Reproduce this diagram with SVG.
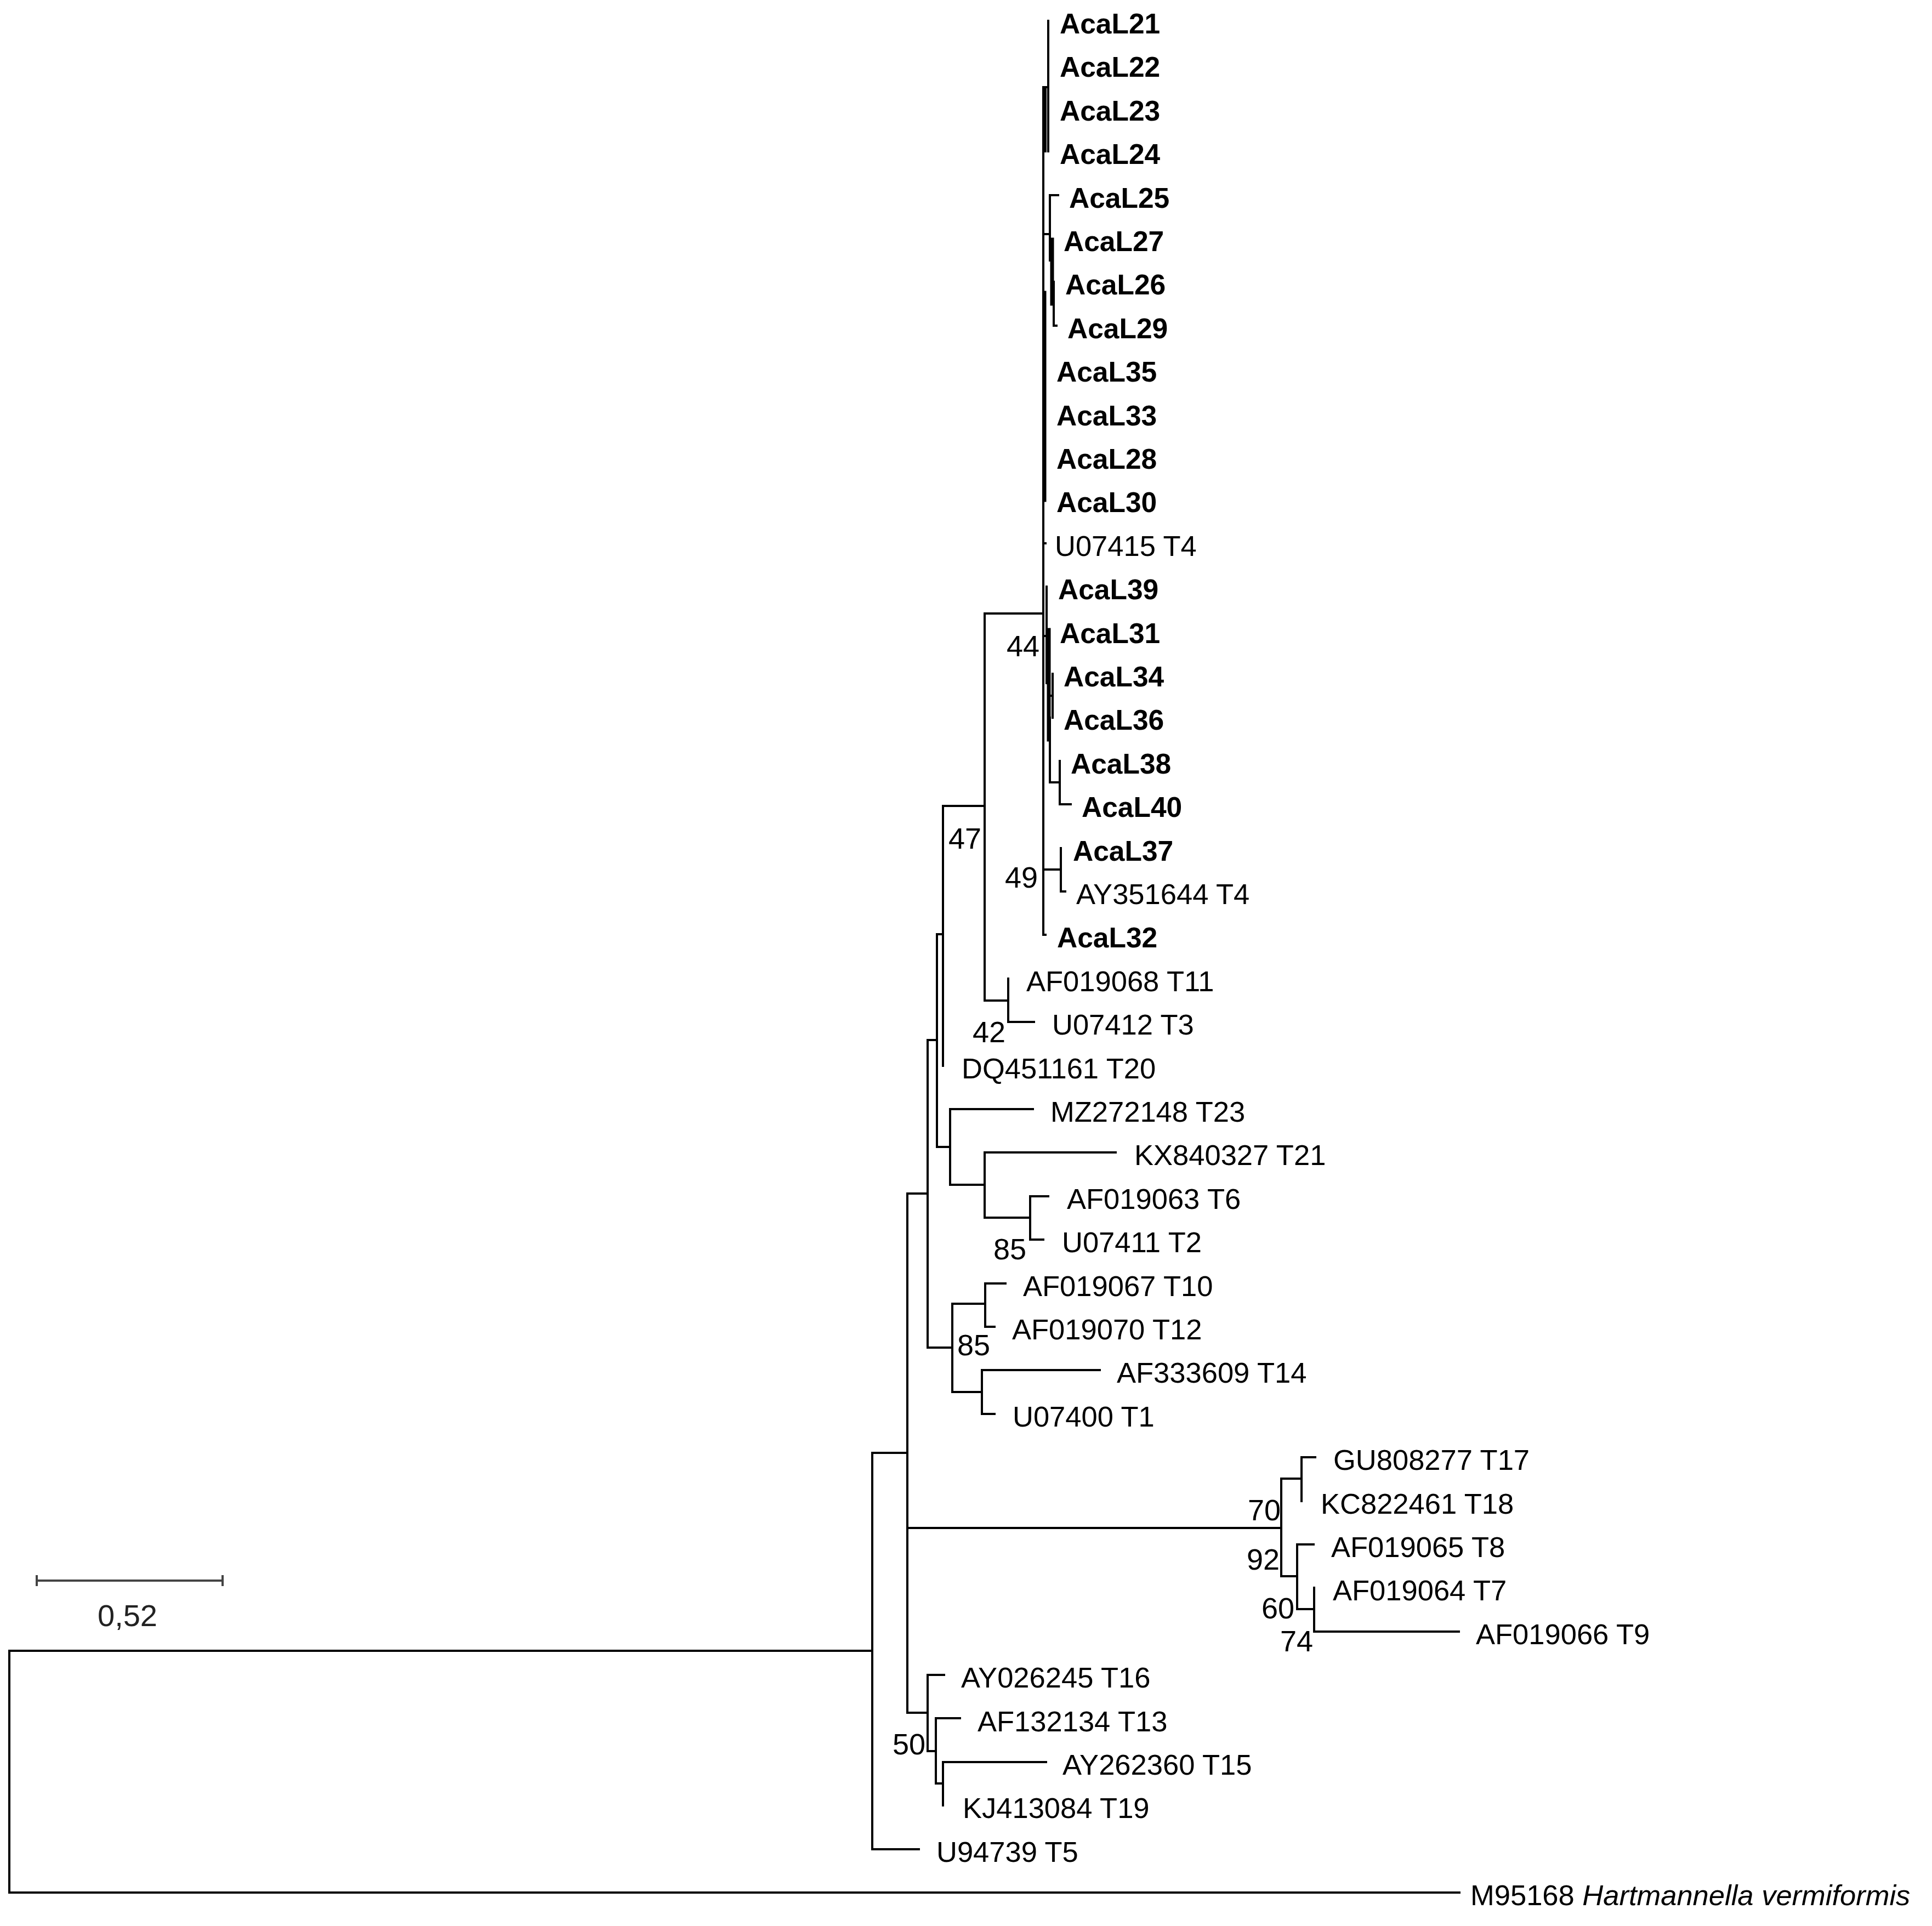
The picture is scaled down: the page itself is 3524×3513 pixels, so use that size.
<svg xmlns="http://www.w3.org/2000/svg" width="3524" height="3513" viewBox="0 0 3524 3513">
<style>
.e{fill:none;stroke:#000;stroke-width:4;stroke-linecap:square}
.t{stroke-width:7}
.b{font-family:"Liberation Sans",Arial,sans-serif;font-size:51.5px;font-weight:bold;fill:#000}
.r{font-family:"Liberation Sans",Arial,sans-serif;font-size:52.5px;fill:#000}
.s{font-family:"Liberation Sans",Arial,sans-serif;font-size:54px;fill:#000}
.sc{font-family:"Liberation Sans",Arial,sans-serif;font-size:56px;fill:#222}
</style>
<rect width="3524" height="3513" fill="#fff"/>
<g id="connectors">
<path class="e" d="M17 3011V3452M17 3011H1591M17 3452H2662"/>
<path class="e" d="M1591 2650V3373M1591 2650H1655M1591 3373H1676"/>
<path class="e" d="M1655 2177V3124M1655 2177H1692M1655 2787H2337M1655 3124H1692"/>
<path class="e" d="M1692 1897V2458M1692 1897H1709M1692 2458H1737"/>
<path class="e" d="M1709 1704V2092M1709 1704H1720M1709 2092H1733"/>
<path class="e" d="M1720 1470V1944M1720 1470H1796"/>
<path class="e" d="M1796 1119V1825M1796 1119H1903M1796 1825H1839"/>
<path class="e" d="M1839 1785V1864M1839 1864H1886"/>
<path class="e" d="M1733 2023V2161M1733 2023H1884M1733 2161H1796"/>
<path class="e" d="M1796 2102V2221M1796 2102H2035M1796 2221H1879"/>
<path class="e" d="M1879 2182V2261M1879 2182H1912M1879 2261H1903"/>
<path class="e" d="M1737 2378V2539M1737 2378H1797M1737 2539H1791"/>
<path class="e" d="M1797 2341V2420M1797 2341H1834M1797 2420H1814"/>
<path class="e" d="M1791 2499V2579M1791 2499H2006M1791 2579H1814"/>
<path class="e" d="M2337 2697V2875M2337 2697H2374M2337 2875H2366"/>
<path class="e" d="M2374 2658V2738M2374 2658H2399"/>
<path class="e" d="M2366 2817V2935M2366 2817H2396M2366 2935H2397"/>
<path class="e" d="M2397 2896V2976M2397 2976H2661"/>
<path class="e" d="M1692 3055V3194M1692 3055H1722M1692 3194H1707"/>
<path class="e" d="M1707 3134V3253M1707 3134H1751M1707 3253H1720"/>
<path class="e" d="M1720 3214V3293M1720 3214H1908"/>
<path class="e" d="M1903 159V1705M1903 1705H1907M1903 991H1907M1903 159H1912M1903 427H1915M1903 1586H1935"/>
<path class="e t" d="M1905 534V912"/>
<path class="e" d="M1912 38V276"/>
<path class="e" d="M1907 159V276"/>
<path class="e" d="M1915 356V475M1915 356H1930M1915 475H1918"/>
<path class="e t" d="M1919 437V554"/>
<path class="e" d="M1918 554H1922M1922 514V594M1922 594H1927"/>
<path class="e" d="M1935 1547V1626M1935 1626H1943"/>
<path class="e" d="M1903 1160H1909M1909 1070V1246"/>
<path class="e t" d="M1913 1149V1349"/>
<path class="e" d="M1912 1269H1920M1920 1229V1309M1912 1349H1915M1915 1309V1427M1915 1427H1933M1933 1388V1467M1933 1467H1953"/>
</g>
<g id="scale-bar">
<path d="M67 2883H406M67 2873V2893M406 2873V2893" fill="none" stroke="#444" stroke-width="4"/>
<text class="sc" x="178" y="2966">0,52</text>
</g>
<g id="support">
<text class="s" x="1836" y="1197">44</text>
<text class="s" x="1730" y="1548">47</text>
<text class="s" x="1833" y="1619">49</text>
<text class="s" x="1774" y="1901">42</text>
<text class="s" x="1812" y="2297">85</text>
<text class="s" x="1746" y="2472">85</text>
<text class="s" x="2276" y="2773">70</text>
<text class="s" x="2274" y="2863">92</text>
<text class="s" x="2301" y="2952">60</text>
<text class="s" x="2335" y="3012">74</text>
<text class="s" x="1628" y="3200">50</text>
</g>
<g id="leaves">
<g id="n1"><text class="b" x="1933" y="61">AcaL21</text></g>
<g id="n2"><text class="b" x="1933" y="140">AcaL22</text></g>
<g id="n3"><text class="b" x="1933" y="220">AcaL23</text></g>
<g id="n4"><text class="b" x="1933" y="299">AcaL24</text></g>
<g id="n5"><text class="b" x="1950" y="379">AcaL25</text></g>
<g id="n6"><text class="b" x="1940" y="458">AcaL27</text></g>
<g id="n7"><text class="b" x="1943" y="537">AcaL26</text></g>
<g id="n8"><text class="b" x="1947" y="617">AcaL29</text></g>
<g id="n9"><text class="b" x="1927" y="696">AcaL35</text></g>
<g id="n10"><text class="b" x="1927" y="776">AcaL33</text></g>
<g id="n11"><text class="b" x="1927" y="855">AcaL28</text></g>
<g id="n12"><text class="b" x="1927" y="934">AcaL30</text></g>
<g id="n13"><text class="r" x="1924" y="1014">U07415 T4</text></g>
<g id="n14"><text class="b" x="1930" y="1093">AcaL39</text></g>
<g id="n15"><text class="b" x="1933" y="1173">AcaL31</text></g>
<g id="n16"><text class="b" x="1940" y="1252">AcaL34</text></g>
<g id="n17"><text class="b" x="1940" y="1331">AcaL36</text></g>
<g id="n18"><text class="b" x="1953" y="1411">AcaL38</text></g>
<g id="n19"><text class="b" x="1973" y="1490">AcaL40</text></g>
<g id="n20"><text class="b" x="1957" y="1570">AcaL37</text></g>
<g id="n21"><text class="r" x="1963" y="1649">AY351644 T4</text></g>
<g id="n22"><text class="b" x="1928" y="1728">AcaL32</text></g>
<g id="n23"><text class="r" x="1872" y="1808">AF019068 T11</text></g>
<g id="n24"><text class="r" x="1919" y="1887">U07412 T3</text></g>
<g id="n25"><text class="r" x="1754" y="1967">DQ451161 T20</text></g>
<g id="n26"><text class="r" x="1916" y="2046">MZ272148 T23</text></g>
<g id="n27"><text class="r" x="2069" y="2125">KX840327 T21</text></g>
<g id="n28"><text class="r" x="1946" y="2205">AF019063 T6</text></g>
<g id="n29"><text class="r" x="1937" y="2284">U07411 T2</text></g>
<g id="n30"><text class="r" x="1866" y="2364">AF019067 T10</text></g>
<g id="n31"><text class="r" x="1846" y="2443">AF019070 T12</text></g>
<g id="n32"><text class="r" x="2037" y="2522">AF333609 T14</text></g>
<g id="n33"><text class="r" x="1847" y="2602">U07400 T1</text></g>
<g id="n34"><text class="r" x="2432" y="2681">GU808277 T17</text></g>
<g id="n35"><text class="r" x="2409" y="2761">KC822461 T18</text></g>
<g id="n36"><text class="r" x="2428" y="2840">AF019065 T8</text></g>
<g id="n37"><text class="r" x="2431" y="2919">AF019064 T7</text></g>
<g id="n38"><text class="r" x="2692" y="2999">AF019066 T9</text></g>
<g id="n39"><text class="r" x="1753" y="3078">AY026245 T16</text></g>
<g id="n40"><text class="r" x="1783" y="3158">AF132134 T13</text></g>
<g id="n41"><text class="r" x="1938" y="3237">AY262360 T15</text></g>
<g id="n42"><text class="r" x="1756" y="3316">KJ413084 T19</text></g>
<g id="n43"><text class="r" x="1708" y="3396">U94739 T5</text></g>
<g id="n44"><text class="r" x="2682" y="3475">M95168 <tspan font-style="italic">Hartmannella vermiformis</tspan></text></g>
</g>
</svg>
